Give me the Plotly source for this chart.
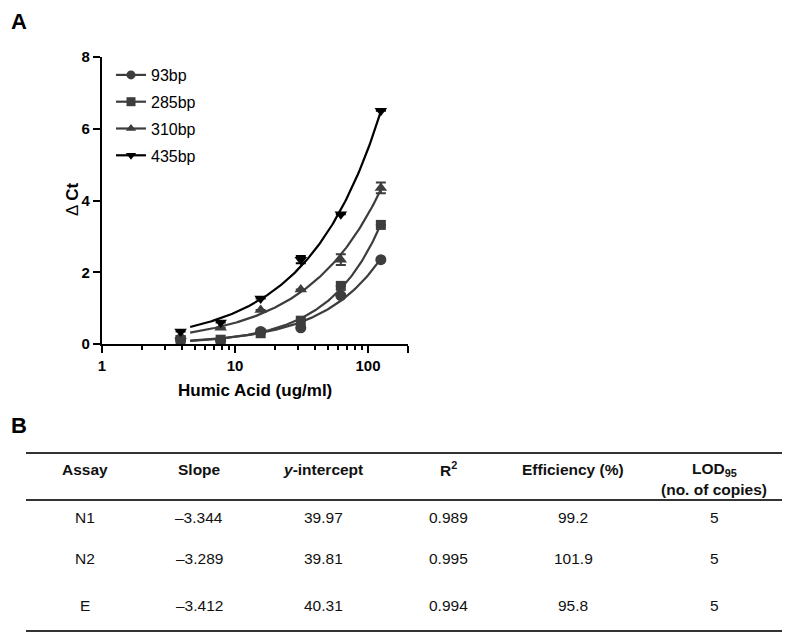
import numpy as np
import plotly.graph_objects as go

# The page adds an 8px body margin; the figure is sized so the
# photographed window (790x634) matches the reference layout.
OFF = 8
W, H = 790 - OFF, 634 - OFF

# ---------------- Panel A data ----------------
humic_acid = [3.9, 7.8, 15.6, 31.25, 62.5, 125]
series_names = ["93bp", "285bp", "310bp", "435bp"]
dct_93 = [0.12, 0.10, 0.35, 0.45, 1.35, 2.35]
dct_285 = [0.10, 0.12, 0.30, 0.65, 1.62, 3.32]
dct_310 = [0.22, 0.45, 0.95, 1.52, 2.35, 4.35]
dct_435 = [0.35, 0.60, 1.27, 2.35, 3.62, 6.50]
err_93 = [0, 0, 0, 0, 0, 0]
err_285 = [0, 0, 0, 0, 0, 0]
err_310 = [0, 0, 0, 0, 0.15, 0.15]
err_435 = [0, 0, 0, 0.10, 0, 0]
x_ticks = [1, 10, 100, 200]
x_tick_labels = ["1", "10", "100", ""]
y_ticks = [0, 2, 4, 6, 8]

# ---------------- Panel B data ----------------
table_headers = ["Assay", "Slope", "<i>y</i>-intercept", "R<sup>2</sup>", "Efficiency (%)"]
assays = ["N1", "N2", "E"]
slopes = ["\u20133.344", "\u20133.289", "\u20133.412"]
intercepts = ["39.97", "39.81", "40.31"]
r2_values = ["0.989", "0.995", "0.994"]
efficiencies = ["99.2", "101.9", "95.8"]
lod95 = ["5", "5", "5"]

FONT = "Liberation Sans, Arial, sans-serif"
GRAY = "#3d3d3d"

def px_x(p):
    return (p - OFF) / W

def px_y(p):
    return 1 - (p - OFF) / H

def power_fit(xs, ys):
    """Least-squares fit of y = a * x**b (grid over b, closed form for a)."""
    xs = np.asarray(xs, float)
    ys = np.asarray(ys, float)
    best = None
    for b in np.arange(0.2, 2.5, 0.001):
        xb = xs ** b
        a = np.sum(ys * xb) / np.sum(xb * xb)
        sse = np.sum((ys - a * xb) ** 2)
        if best is None or sse < best[0]:
            best = (sse, a, b)
    return best[1], best[2]

fig = go.Figure()

styles = [
    ("circle", GRAY, 11, dct_93, err_93),
    ("square", GRAY, 10, dct_285, err_285),
    ("triangle-up", GRAY, 11, dct_310, err_310),
    ("triangle-down", "#000000", 11, dct_435, err_435),
]

x_fit = np.geomspace(4.6, 125, 150)
for name, (sym, col, msize, ys, es) in zip(series_names, styles):
    a, b = power_fit(humic_acid, ys)
    y_fit = a * x_fit ** b
    fig.add_trace(go.Scatter(
        x=x_fit, y=y_fit, mode="lines",
        line=dict(color=col, width=2.2),
        showlegend=False, hoverinfo="skip", legendgroup=name,
    ))
    fig.add_trace(go.Scatter(
        x=humic_acid, y=ys, mode="markers", name=name,
        marker=dict(symbol=sym, size=msize, color=col),
        error_y=dict(type="data", array=es, visible=True, color=col,
                     thickness=2, width=5),
        showlegend=False, legendgroup=name,
    ))
    fig.add_trace(go.Scatter(
        x=[None], y=[None], mode="lines+markers", name=name,
        line=dict(color=col, width=2.2),
        marker=dict(symbol=sym, size=9, color=col),
        legendgroup=name,
    ))

fig.update_xaxes(
    type="log", range=[0, np.log10(200)],
    domain=[px_x(102), px_x(408)], automargin=False,
    showline=True, linecolor="black", linewidth=2.2,
    ticks="outside", ticklen=7, tickwidth=2, tickcolor="black",
    tickvals=x_ticks, ticktext=x_tick_labels,
    tickfont=dict(family=FONT, size=15, color="black", weight="bold"),
    minor=dict(tickvals=[2, 3, 4, 5, 6, 7, 8, 9, 20, 30, 40, 50, 60, 70, 80, 90],
               ticklen=4, tickwidth=2, tickcolor="black", ticks="outside"),
    showgrid=False, zeroline=False,
)
fig.update_yaxes(
    range=[0, 8], domain=[px_y(344), px_y(57)], automargin=False,
    showline=True, linecolor="black", linewidth=2.2,
    ticks="outside", ticklen=7, tickwidth=2, tickcolor="black",
    tickvals=y_ticks,
    tickfont=dict(family=FONT, size=15, color="black", weight="bold"),
    showgrid=False, zeroline=False,
)

def note(x, y, text, size=15.5, color="#111111", angle=0, anchor="center", vanchor="middle"):
    return dict(x=px_x(x), y=px_y(y), xref="paper", yref="paper", text=text,
                showarrow=False, xanchor=anchor, yanchor=vanchor, textangle=angle,
                borderpad=0,
                font=dict(family=FONT, size=size, color=color))

annotations = []
annotations.append(note(10, 8, "<b>A</b>", size=22, color="black", anchor="left", vanchor="top"))
annotations.append(note(10, 425, "<b>B</b>", size=22, color="black", anchor="left"))
annotations.append(note(255, 390, "<b>Humic Acid (ug/ml)</b>", size=17, color="black"))
annotations.append(note(72, 200, "\u0394 <b>Ct</b>", size=17, color="black", angle=-90))

# Table
col_x = [85, 199, 323, 448, 573, 714]
hdr_y = 469
for cx, t in zip(col_x[:5], table_headers):
    annotations.append(note(cx, hdr_y, "<b>" + t + "</b>"))
annotations.append(note(col_x[5], hdr_y, "<b>LOD<sub>95</sub></b>"))
annotations.append(note(col_x[5], 489, "<b>(no. of copies)</b>"))
row_y = [517, 558, 605]
columns = [assays, slopes, intercepts, r2_values, efficiencies, lod95]
for ci, col in enumerate(columns):
    for ri, val in enumerate(col):
        annotations.append(note(col_x[ci], row_y[ri], val))

shapes = []
for ly, lw in [(453, 2.2), (500, 2), (631, 2.2)]:
    shapes.append(dict(type="line", xref="paper", yref="paper",
                       x0=px_x(26), x1=px_x(782), y0=px_y(ly), y1=px_y(ly),
                       line=dict(color="#333333", width=lw)))

fig.update_layout(
    template="none",
    width=W, height=H,
    margin=dict(l=0, r=0, t=0, b=0, autoexpand=False),
    paper_bgcolor="white", plot_bgcolor="white",
    annotations=annotations, shapes=shapes,
    showlegend=True,
    legend=dict(x=px_x(111), y=px_y(58), xanchor="left", yanchor="top",
                font=dict(family=FONT, size=16, color="black"),
                bgcolor="rgba(0,0,0,0)", itemwidth=30,
                tracegroupgap=3, traceorder="grouped"),
)

fig.write_html("out.html")
